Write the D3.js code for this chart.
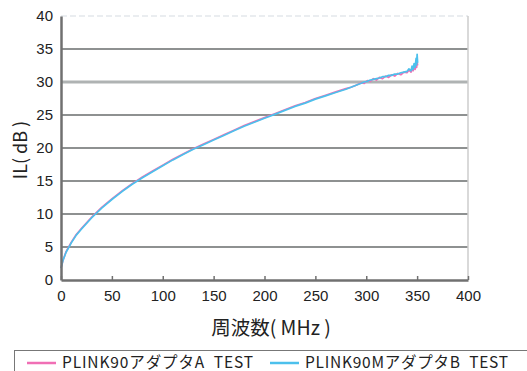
<!DOCTYPE html>
<html>
<head>
<meta charset="utf-8">
<script src="https://cdn.jsdelivr.net/npm/d3@7"></script>
<style>
  body { margin: 0; background: #fff; }
  text { font-family: "Liberation Sans", Arial, "Noto Sans CJK JP", sans-serif; fill: #222; }
  .jp { font-family: "Noto Sans CJK JP", "Noto Sans", sans-serif; }
</style>
</head>
<body>
<div id="chart"></div>
<script>
// 周波数 (MHz)
let freq = [0, 2, 5, 10, 15, 20, 30, 40, 50, 60, 70, 80, 90, 100, 110, 120, 130, 140, 150, 160,
  170, 180, 190, 200, 210, 220, 230, 240, 250, 260, 270, 280, 285, 290, 295, 298, 301, 304,
  307, 310, 313, 316, 319, 322, 325, 328, 331, 334, 337, 340, 342, 344, 345, 346, 347, 348, 349, 349.5, 350, 350.5];
// IL (dB) - PLINK90アダプタA TEST
let ilA = [1.8, 3.0, 4.3, 5.7, 6.9, 7.8, 9.5, 11.0, 12.3, 13.5, 14.6, 15.6, 16.5, 17.4, 18.3, 19.1, 19.9, 20.6, 21.3, 22.0,
  22.7, 23.4, 24.0, 24.6, 25.2, 25.8, 26.4, 26.9, 27.5, 28.0, 28.5, 29.0, 29.2, 29.5, 29.9, 29.8, 30.2, 30.1,
  30.5, 30.3, 30.7, 30.5, 30.9, 30.7, 31.1, 30.9, 31.3, 31.1, 31.5, 31.4, 31.8, 31.5, 32.1, 31.7, 32.4, 31.9, 32.8, 32.2, 33.0, 32.5];
// IL (dB) - PLINK90MアダプタB TEST
let ilB = [1.8, 3.0, 4.2, 5.6, 6.8, 7.7, 9.4, 10.9, 12.2, 13.4, 14.5, 15.5, 16.4, 17.3, 18.2, 19.0, 19.8, 20.5, 21.2, 21.9,
  22.6, 23.3, 23.9, 24.5, 25.1, 25.7, 26.3, 26.8, 27.4, 27.9, 28.4, 28.9, 29.2, 29.5, 29.8, 30.0, 30.1, 30.3,
  30.4, 30.5, 30.6, 30.8, 30.8, 31.0, 31.0, 31.2, 31.2, 31.4, 31.5, 31.6, 32.0, 31.7, 32.4, 31.9, 32.8, 32.2, 33.6, 32.6, 34.2, 32.9];
let series = [
  { name: "PLINK90アダプタA  TEST", values: ilA, color: "#f06fb5" },
  { name: "PLINK90MアダプタB  TEST", values: ilB, color: "#4cc0ec" }
];
let xTicks = [0, 50, 100, 150, 200, 250, 300, 350, 400];
let yTicks = [0, 5, 10, 15, 20, 25, 30, 35, 40];

const W = 527, H = 371;
const m = { left: 61, right: 59, top: 16, bottom: 91 };
const w = W - m.left - m.right, h = H - m.top - m.bottom;

const svg = d3.select("#chart").append("svg").attr("width", W).attr("height", H);
const g = svg.append("g").attr("transform", `translate(${m.left},${m.top})`);

const x = d3.scaleLinear().domain([0, 400]).range([0, w]);
const y = d3.scaleLinear().domain([0, 40]).range([h, 0]);

// grid
g.selectAll(".grid").data(yTicks.filter(d => d > 0 && d < 40)).enter()
  .append("line").attr("class", "grid")
  .attr("x1", 0).attr("x2", w)
  .attr("y1", d => y(d)).attr("y2", d => y(d))
  .attr("stroke", d => d === 30 ? "#afb3b3" : "#8e9191")
  .attr("stroke-width", d => d === 30 ? 3 : 2.2);

// top edge (faint)
g.append("line").attr("x1", 0).attr("x2", w).attr("y1", 0).attr("y2", 0)
  .attr("stroke", "#e3e8ec").attr("stroke-width", 1.5).attr("stroke-dasharray", "6,3");
// right edge
g.append("line").attr("x1", w).attr("x2", w).attr("y1", 0).attr("y2", h)
  .attr("stroke", "#cdcdcd").attr("stroke-width", 1.5);

// lines
const line = d3.line().x((d, i) => x(freq[i])).y(d => y(d));
series.forEach(s => {
  g.append("path").datum(s.values)
    .attr("fill", "none").attr("stroke", s.color)
    .attr("stroke-width", 1.7).attr("stroke-linejoin", "round")
    .attr("d", line);
});

// axes
const xAxis = d3.axisBottom(x).tickValues(xTicks).tickSizeInner(-4).tickSizeOuter(0).tickPadding(10);
const gx = g.append("g").attr("transform", `translate(0,${h})`).call(xAxis);
gx.select(".domain").attr("stroke", "#707070").attr("stroke-width", 2.5);
gx.selectAll(".tick line").attr("stroke", "#707070").attr("stroke-width", 1.5);
gx.selectAll("text").attr("font-size", 15).attr("fill", "#222");

const yAxis = d3.axisLeft(y).tickValues(yTicks).tickSize(0).tickPadding(8);
const gy = g.append("g").call(yAxis);
gy.select(".domain").attr("stroke", "#707070").attr("stroke-width", 2.5);
gy.selectAll("text").attr("font-size", 15).attr("fill", "#222");

// titles
svg.append("text").attr("class", "jp").attr("x", 271).attr("y", 335)
  .attr("text-anchor", "middle").attr("font-size", 19.5)
  .text("周波数( MHz )");
svg.append("text").attr("class", "jp").attr("transform", `translate(27,150) rotate(-90)`)
  .attr("text-anchor", "middle").attr("font-size", 18)
  .text("IL( dB )");

// legend
svg.append("rect").attr("x", 14.5).attr("y", 350.5).attr("width", 520).attr("height", 30)
  .attr("fill", "#fff").attr("stroke", "#777").attr("stroke-width", 1);
const lg = svg.selectAll(".lg").data(series).enter().append("g")
  .attr("transform", (d, i) => `translate(${i === 0 ? 27 : 270},0)`);
lg.append("line").attr("x1", 0).attr("x2", 29).attr("y1", 363).attr("y2", 363)
  .attr("stroke", d => d.color).attr("stroke-width", 2.5);
lg.append("text").attr("class", "jp").attr("x", 35).attr("y", 367.5).attr("font-size", 15.5)
  .attr("textLength", (d, i) => i === 0 ? 191 : 203).attr("lengthAdjust", "spacing")
  .style("white-space", "pre").text(d => d.name);
</script>
</body>
</html>
